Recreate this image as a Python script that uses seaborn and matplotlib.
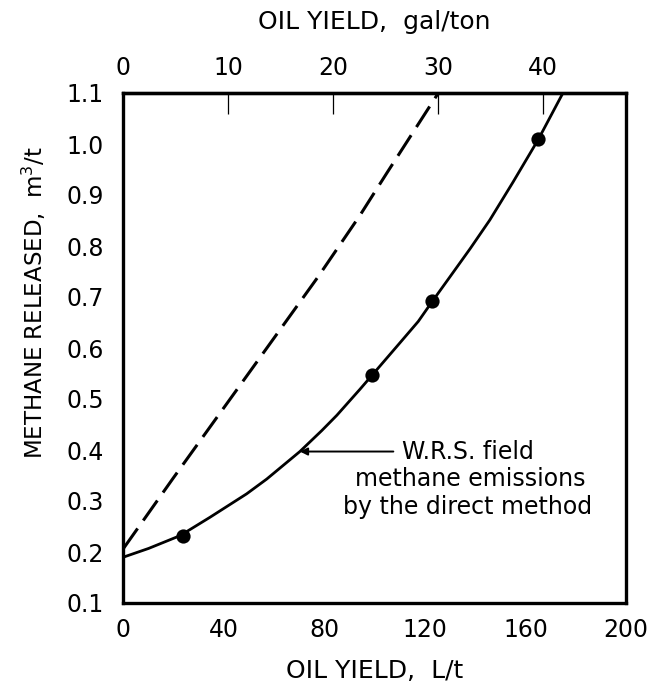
import matplotlib
matplotlib.use("Agg")
import matplotlib.pyplot as plt
import seaborn as sns
import pandas as pd

# ---- data ----
point_x = [23.6, 99.0, 122.7, 165.1]          # L/t
point_y = [0.232, 0.547, 0.692, 1.009]        # m3/t

fit_x = [0, 10, 22.5, 34.4, 49.0, 57.0, 70.2, 78.9, 84.9, 94.1, 99.0,
         110.0, 117.3, 122.7, 130.0, 138.0, 145.8, 155.0, 165.1, 174.9]
fit_y = [0.190, 0.207, 0.232, 0.268, 0.314, 0.343, 0.397, 0.438, 0.468, 0.519, 0.547,
         0.610, 0.652, 0.690, 0.740, 0.795, 0.851, 0.925, 1.009, 1.100]

dash_x = [0, 19.8, 55.6, 77.5, 94.1, 104.8, 125.3]
dash_y = [0.207, 0.345, 0.590, 0.740, 0.860, 0.943, 1.100]

bottom_ticks = [0, 40, 80, 120, 160, 200]
top_ticks = [0, 10, 20, 30, 40]
y_ticks = [0.1, 0.2, 0.3, 0.4, 0.5, 0.6, 0.7, 0.8, 0.9, 1.0, 1.1]
GAL_PER_TON_TO_L_PER_T = 4.17

sns.set_style("white")
plt.rcParams['font.family'] = ['DejaVu Sans']
plt.rcParams.update({"text.color": "black", "axes.labelcolor": "black",
                     "xtick.color": "black", "ytick.color": "black"})

fig = plt.figure(figsize=(6.52, 6.83), dpi=100)
ax = fig.add_axes([123.5 / 652, 1 - 603 / 683, (626 - 123.5) / 652, (603 - 93) / 683])

fit_df = pd.DataFrame({"x": fit_x, "y": fit_y})
dash_df = pd.DataFrame({"x": dash_x, "y": dash_y})
pts_df = pd.DataFrame({"x": point_x, "y": point_y})

sns.lineplot(data=fit_df, x="x", y="y", ax=ax, color="black", lw=2.0, sort=True,
             estimator=None)
sns.lineplot(data=dash_df, x="x", y="y", ax=ax, color="black", lw=2.2,
             estimator=None)
ax.lines[-1].set_dashes([8.0, 3.2])
sns.scatterplot(data=pts_df, x="x", y="y", ax=ax, color="black", s=105,
                edgecolor="black", linewidth=0, zorder=5)

ax.set_xlim(0, 200)
ax.set_ylim(0.1, 1.1)
ax.set_xticks(bottom_ticks)
ax.set_xticklabels([str(t) for t in bottom_ticks])
ax.set_yticks(y_ticks)
ax.set_yticklabels([f"{t:.1f}" for t in y_ticks])

for sp in ax.spines.values():
    sp.set_linewidth(2.4)
    sp.set_color("black")

ax.tick_params(axis="both", direction="in", length=15, width=0.9,
               labelsize=17)
ax.tick_params(axis="x", pad=11)
ax.tick_params(axis="y", pad=14)

ax.set_xlabel("OIL YIELD,  L/t", fontsize=18, labelpad=12)
ax.set_ylabel(r"METHANE RELEASED,  m$^{3}$/t", fontsize=16.5)
ax.yaxis.set_label_coords(-0.15, 0.59)

top = ax.secondary_xaxis("top", functions=(lambda v: v / GAL_PER_TON_TO_L_PER_T,
                                           lambda g: g * GAL_PER_TON_TO_L_PER_T))
top.set_xticks(top_ticks)
top.set_xticklabels([str(t) for t in top_ticks])
top.tick_params(direction="in", length=15, width=0.9, labelsize=17, pad=9)
top.spines["top"].set_linewidth(2.4)
top.set_xlabel("OIL YIELD,  gal/ton", fontsize=18, labelpad=20)

# annotation
ax.annotate("", xy=(70.2, 0.397), xytext=(107.4, 0.397),
            arrowprops=dict(arrowstyle="-|>", lw=1.4, color="black",
                            mutation_scale=11, shrinkA=0, shrinkB=0))
ax.text(110.7, 0.397, "W.R.S. field", fontsize=17, ha="left", va="center")
ax.text(138.2, 0.343, "methane emissions", fontsize=17, ha="center", va="center")
ax.text(136.9, 0.288, "by the direct method", fontsize=17, ha="center", va="center")

fig.savefig("out.png", dpi=100)
